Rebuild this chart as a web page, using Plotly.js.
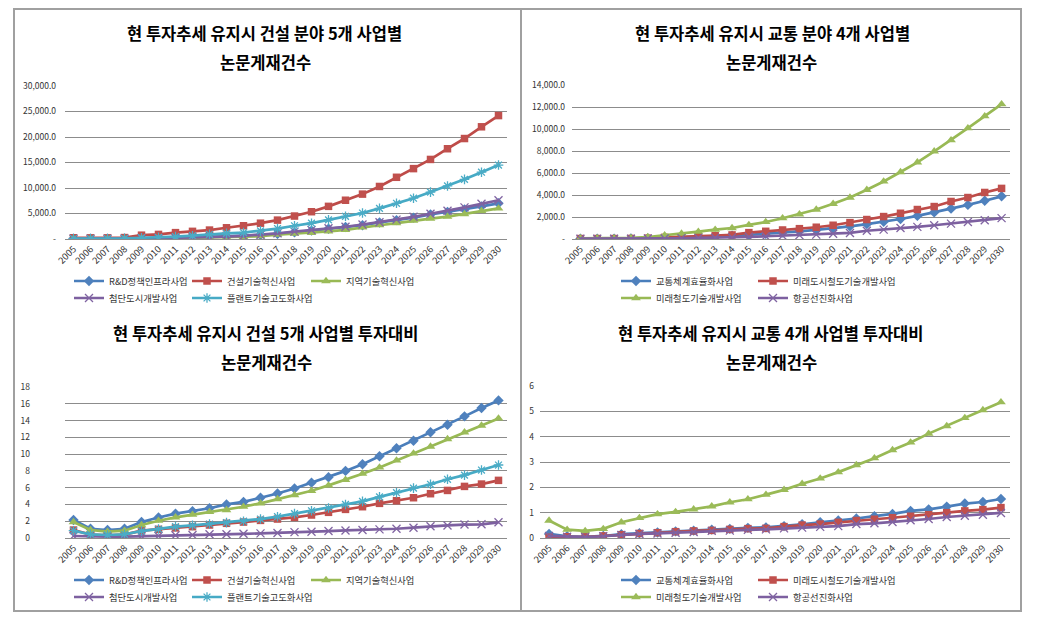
<!DOCTYPE html>
<html><head><meta charset="utf-8">
<script src="https://cdn.plot.ly/plotly-3.0.1.min.js"></script>
<style>html,body{margin:0;padding:0;background:#fff;} #chart{width:1054px;height:618px;}</style>
</head><body><div id="chart"></div>
<script>
// ---------- data ----------
const years = ['2005','2006','2007','2008','2009','2010','2011','2012','2013','2014','2015','2016','2017','2018','2019','2020','2021','2022','2023','2024','2025','2026','2027','2028','2029','2030'];

const conNames = ['R&D정책인프라사업','건설기술혁신사업','지역기술혁신사업','첨단도시개발사업','플랜트기술고도화사업'];
const trnNames = ['교통체계효율화사업','미래도시철도기술개발사업','미래철도기술개발사업','항공선진화사업'];

const titles = [
  ['현 투자추세 유지시 건설 분야 5개 사업별','논문게재건수'],
  ['현 투자추세 유지시 교통 분야 4개 사업별','논문게재건수'],
  ['현 투자추세 유지시 건설 5개 사업별 투자대비','논문게재건수'],
  ['현 투자추세 유지시 교통 4개 사업별 투자대비','논문게재건수']
];

// construction: paper counts
const conRnd    = [80,50,50,60,130,180,250,330,420,520,650,800,1000,1300,1650,2000,2350,2700,3250,3700,4200,4800,5300,5800,6400,7000];
const conTech   = [250,230,230,280,750,900,1250,1500,1750,2200,2600,3100,3700,4500,5350,6400,7600,8800,10300,12100,13800,15600,17700,19700,22000,24200];
const conRegion = [50,40,40,50,100,130,170,220,280,350,430,550,850,1050,1200,1500,1800,2300,2700,3100,3600,4000,4400,4900,5500,6000];
const conUrban  = [60,50,50,60,120,160,220,300,380,480,620,800,1100,1450,1750,2100,2400,2850,3300,3800,4350,4950,5550,6200,6900,7600];
const conPlant  = [100,80,80,120,250,330,480,650,900,1100,1250,1600,2050,2600,3100,3750,4450,5100,6000,7000,8000,9200,10400,11700,13100,14500];

// transport: paper counts
const trnEff       = [30,30,30,40,60,100,140,190,240,300,380,470,580,700,830,980,1150,1350,1560,1820,2100,2420,2760,3100,3480,3880];
const trnUrbanRail = [40,40,40,50,80,150,180,240,300,370,580,700,820,940,1070,1250,1490,1770,2040,2340,2680,2950,3410,3770,4230,4600];
const trnRail      = [60,60,60,100,180,330,490,670,850,1000,1280,1550,1890,2250,2680,3200,3770,4470,5230,6090,6970,7970,8980,10070,11170,12260];
const trnAir       = [30,30,30,30,40,50,70,100,120,150,200,250,300,350,400,480,550,750,850,1000,1100,1250,1400,1550,1700,1900];

// construction: papers per investment
const conRatioRnd    = [2.15,1.1,0.95,1.1,1.9,2.45,2.9,3.2,3.55,4.0,4.3,4.8,5.3,5.9,6.6,7.25,8.0,8.8,9.75,10.7,11.6,12.6,13.5,14.5,15.5,16.4];
const conRatioTech   = [0.95,0.4,0.32,0.4,0.87,1.03,1.2,1.35,1.55,1.75,1.9,2.1,2.26,2.46,2.74,3.06,3.41,3.73,4.13,4.44,4.8,5.28,5.67,6.15,6.43,6.87];
const conRatioRegion = [1.9,0.95,0.75,0.87,1.55,2.06,2.46,2.78,3.1,3.33,3.73,4.13,4.64,5.12,5.63,6.27,6.94,7.66,8.41,9.25,10.08,10.9,11.8,12.6,13.4,14.25];
const conRatioUrban  = [0.24,0.16,0.16,0.16,0.22,0.24,0.32,0.36,0.44,0.44,0.5,0.55,0.6,0.7,0.75,0.83,0.9,0.95,1.03,1.1,1.23,1.4,1.5,1.6,1.63,1.87];
const conRatioPlant  = [0.87,0.44,0.36,0.44,0.83,1.07,1.35,1.5,1.67,1.83,2.0,2.26,2.54,2.9,3.25,3.57,4.0,4.37,4.9,5.4,5.95,6.4,7.0,7.5,8.1,8.7];

// transport: papers per investment
const trnRatioEff       = [0.16,0.07,0.05,0.08,0.15,0.19,0.22,0.26,0.29,0.33,0.36,0.4,0.42,0.47,0.54,0.62,0.69,0.77,0.86,0.95,1.07,1.13,1.24,1.36,1.42,1.54];
const trnRatioUrbanRail = [0.03,0.05,0.04,0.08,0.13,0.18,0.21,0.25,0.28,0.3,0.34,0.37,0.38,0.45,0.51,0.55,0.62,0.69,0.74,0.8,0.86,0.92,1.0,1.07,1.12,1.2];
const trnRatioRail      = [0.69,0.33,0.28,0.36,0.62,0.79,0.94,1.03,1.13,1.25,1.41,1.53,1.71,1.9,2.14,2.35,2.6,2.88,3.15,3.47,3.77,4.12,4.42,4.74,5.05,5.36];
const trnRatioAir       = [0.08,0.05,0.04,0.07,0.12,0.16,0.18,0.21,0.24,0.28,0.29,0.32,0.34,0.38,0.41,0.44,0.47,0.55,0.58,0.63,0.7,0.75,0.83,0.88,0.92,0.99];

// tick labels
const conCountTickVals = [0,5000,10000,15000,20000,25000,30000];
const conCountTickText = ['-','5,000.0','10,000.0','15,000.0','20,000.0','25,000.0','30,000.0'];
const trnCountTickVals = [0,2000,4000,6000,8000,10000,12000,14000];
const trnCountTickText = ['-','2,000.0','4,000.0','6,000.0','8,000.0','10,000.0','12,000.0','14,000.0'];
const conRatioTickVals = [0,2,4,6,8,10,12,14,16,18];
const trnRatioTickVals = [0,1,2,3,4,5,6];

// ---------- styling / layout ----------
const W = 1054, H = 618;
const px = x => x / W, py = y => 1 - y / H;
const KFONT = '"Noto Sans CJK KR", "Noto Sans", sans-serif';

const S = {
  blue:   {line:'#4A7EBB', marker:{symbol:'diamond', size:8, color:'#4F81BD'}},
  red:    {line:'#BE4B48', marker:{symbol:'square', size:7.5, color:'#C0504D'}},
  green:  {line:'#98B954', marker:{symbol:'triangle-up', size:8.5, color:'#9BBB59'}},
  purple: {line:'#7D60A0', marker:{symbol:'x-thin-open', size:8, color:'#8064A2', line:{color:'#8064A2', width:1.3}}},
  cyan:   {line:'#46AAC5', marker:{symbol:'asterisk-open', size:8, color:'#4BACC6', line:{color:'#4BACC6', width:1.3}}}
};

let legendCount = 0;
const legendDefs = {};
function leg(textX, y) {
  legendCount++;
  const key = legendCount === 1 ? 'legend' : 'legend' + legendCount;
  legendDefs[key] = {orientation:'h', x:px(textX - 41), y:py(y), xanchor:'left', yanchor:'middle',
    font:{family:KFONT, size:9.3, color:'#333'}, bgcolor:'rgba(0,0,0,0)', itemwidth:30};
  return key;
}

function tr(name, y, st, ax, legendKey) {
  return {
    type:'scatter', mode:'lines+markers', name:name, x:years, y:y,
    xaxis:'x'+ax, yaxis:'y'+ax, legend:legendKey,
    line:{color:st.line, width:2.7}, marker:st.marker
  };
}

// legend text positions (px): columns and rows
const colL = [110, 228, 347], colR = [657, 794];
const data = [
  tr(conNames[0], conRnd,    S.blue,   '', leg(colL[0], 281)),
  tr(conNames[1], conTech,   S.red,    '', leg(colL[1], 281)),
  tr(conNames[2], conRegion, S.green,  '', leg(colL[2], 281)),
  tr(conNames[3], conUrban,  S.purple, '', leg(colL[0], 298)),
  tr(conNames[4], conPlant,  S.cyan,   '', leg(colL[1], 298)),

  tr(trnNames[0], trnEff,       S.blue,   '2', leg(colR[0], 281)),
  tr(trnNames[1], trnUrbanRail, S.red,    '2', leg(colR[1], 281)),
  tr(trnNames[2], trnRail,      S.green,  '2', leg(colR[0], 298)),
  tr(trnNames[3], trnAir,       S.purple, '2', leg(colR[1], 298)),

  tr(conNames[0], conRatioRnd,    S.blue,   '3', leg(colL[0], 580)),
  tr(conNames[1], conRatioTech,   S.red,    '3', leg(colL[1], 580)),
  tr(conNames[2], conRatioRegion, S.green,  '3', leg(colL[2], 580)),
  tr(conNames[3], conRatioUrban,  S.purple, '3', leg(colL[0], 597)),
  tr(conNames[4], conRatioPlant,  S.cyan,   '3', leg(colL[1], 597)),

  tr(trnNames[0], trnRatioEff,       S.blue,   '4', leg(colR[0], 580)),
  tr(trnNames[1], trnRatioUrbanRail, S.red,    '4', leg(colR[1], 580)),
  tr(trnNames[2], trnRatioRail,      S.green,  '4', leg(colR[0], 597)),
  tr(trnNames[3], trnRatioAir,       S.purple, '4', leg(colR[1], 597))
];

const GRID = '#8c8c8c';
const YTICKFONT = {family:KFONT, size:8.5, color:'#333'};
const XTICKFONT = {family:KFONT, size:9.3, color:'#333'};

function xax(l, r, anchor) {
  return {domain:[px(l), px(r)], anchor:anchor, type:'category', range:[-0.5, 25.5],
    tickangle:-45, tickfont:XTICKFONT, showgrid:false, showline:true, linecolor:GRID, linewidth:1,
    ticks:'', zeroline:false, fixedrange:true};
}
function yax(t, b, anchor, range, vals, text, standoff) {
  const a = {domain:[py(b), py(t)], anchor:anchor, range:range, tickvals:vals,
    tickfont:YTICKFONT, showgrid:true, gridcolor:GRID, gridwidth:1, showline:false,
    zeroline:false, ticks:'', ticklabelstandoff:standoff, fixedrange:true};
  if (text) a.ticktext = text;
  return a;
}
function ttl(x, y, text) {
  return {xref:'paper', yref:'paper', x:px(x), y:py(y), xanchor:'center', yanchor:'middle',
    text:'<b>'+text+'</b>', showarrow:false, font:{family:KFONT, size:16.5, color:'#000'}};
}

const layout = Object.assign({
  width:W, height:H, margin:{l:0, r:0, t:0, b:0},
  paper_bgcolor:'#fff', plot_bgcolor:'#fff', showlegend:true,
  xaxis:  xax(65, 507, 'y'),
  yaxis:  yax(86, 239, 'x', [0, 30000], conCountTickVals, conCountTickText, 8),
  xaxis2: xax(572, 1010, 'y2'),
  yaxis2: yax(85, 239, 'x2', [0, 14000], trnCountTickVals, trnCountTickText, 6),
  xaxis3: xax(65, 507, 'y3'),
  yaxis3: yax(387, 538, 'x3', [0, 18], conRatioTickVals, null, 34),
  xaxis4: xax(540, 1010, 'y4'),
  yaxis4: yax(386, 538, 'x4', [0, 6], trnRatioTickVals, null, 5),
  annotations: [
    ttl(264, 33, titles[0][0]), ttl(265, 62, titles[0][1]),
    ttl(772, 33, titles[1][0]), ttl(771, 62, titles[1][1]),
    ttl(265, 333, titles[2][0]), ttl(266, 362, titles[2][1]),
    ttl(770, 333, titles[3][0]), ttl(771, 362, titles[3][1])
  ],
  shapes: [
    {type:'rect', xref:'paper', yref:'paper', x0:px(14), x1:px(1021), y0:py(611), y1:py(9),
      line:{color:'#a0a0a0', width:2}},
    {type:'line', xref:'paper', yref:'paper', x0:px(521), x1:px(521), y0:py(611), y1:py(9),
      line:{color:'#a0a0a0', width:2}}
  ]
}, legendDefs);

Plotly.newPlot('chart', data, layout, {displayModeBar:false, staticPlot:true});
</script>
</body></html>
